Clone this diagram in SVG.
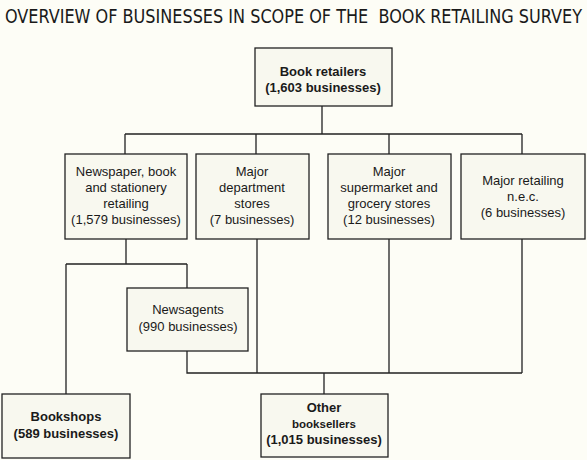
<svg xmlns="http://www.w3.org/2000/svg" width="587" height="460" viewBox="0 0 587 460">
<style>
.bg{fill:#fdfdf6}
.box{fill:#f8f8ef;stroke:#222;stroke-width:1.3}
.ln{fill:none;stroke:#222;stroke-width:1.3}
text{font-family:"Liberation Sans",Arial,sans-serif;font-size:13px;fill:#1a1a1a;text-anchor:middle}
.b{font-weight:bold}
.title{font-family:"DejaVu Sans Condensed","Liberation Sans Narrow",sans-serif;font-size:17px;text-anchor:start}
</style>
<rect class="bg" x="0" y="0" width="587" height="460"/>
<text class="title" transform="translate(5,23) scale(1,1.15)" x="0" y="0" textLength="577" lengthAdjust="spacingAndGlyphs" xml:space="preserve">OVERVIEW OF BUSINESSES IN SCOPE OF THE  BOOK RETAILING SURVEY</text>
<g id="connectors">
<path class="ln" d="M322,106 V134 M125,134 H522 M125,134 V154 M256,134 V154 M389,134 V154 M522,134 V154"/>
<path class="ln" d="M126,239 V264 M66,264 H187 M66,264 V394 M187,264 V288"/>
<path class="ln" d="M187,351 V373 H522 M257,239 V373 M389,239 V373 M522,239 V373 M324,373 V394"/>
</g>
<g id="book-retailers">
<rect class="box" x="255" y="48" width="137" height="58"/>
<text class="b" x="323" y="76">Book retailers</text>
<text class="b" x="323" y="92">(1,603 businesses)</text>
</g>
<g id="newspaper">
<rect class="box" x="65" y="154" width="122" height="85"/>
<text x="126" y="176">Newspaper, book</text>
<text x="126" y="192">and stationery</text>
<text x="126" y="208">retailing</text>
<text x="126" y="224">(1,579 businesses)</text>
</g>
<g id="department">
<rect class="box" x="196" y="154" width="113" height="85"/>
<text x="252" y="176">Major</text>
<text x="252" y="192">department</text>
<text x="252" y="208">stores</text>
<text x="252" y="224">(7 businesses)</text>
</g>
<g id="supermarket">
<rect class="box" x="328" y="154" width="123" height="85"/>
<text x="389" y="176">Major</text>
<text x="389" y="192">supermarket and</text>
<text x="389" y="208">grocery stores</text>
<text x="389" y="224">(12 businesses)</text>
</g>
<g id="retailing-nec">
<rect class="box" x="461" y="154" width="124" height="85"/>
<text x="523" y="185">Major retailing</text>
<text x="523" y="201">n.e.c.</text>
<text x="523" y="217">(6 businesses)</text>
</g>
<g id="newsagents">
<rect class="box" x="127" y="288" width="121" height="63"/>
<text x="188" y="314">Newsagents</text>
<text x="188" y="331">(990 businesses)</text>
</g>
<g id="bookshops">
<rect class="box" x="2" y="394" width="128" height="64"/>
<text class="b" x="66" y="421">Bookshops</text>
<text class="b" x="66" y="438">(589 businesses)</text>
</g>
<g id="other-booksellers">
<rect class="box" x="261" y="394" width="127" height="63"/>
<text class="b" x="324" y="412">Other</text>
<text class="b" x="324" y="428" style="font-size:11.5px">booksellers</text>
<text class="b" x="324" y="444">(1,015 businesses)</text>
</g>
</svg>
